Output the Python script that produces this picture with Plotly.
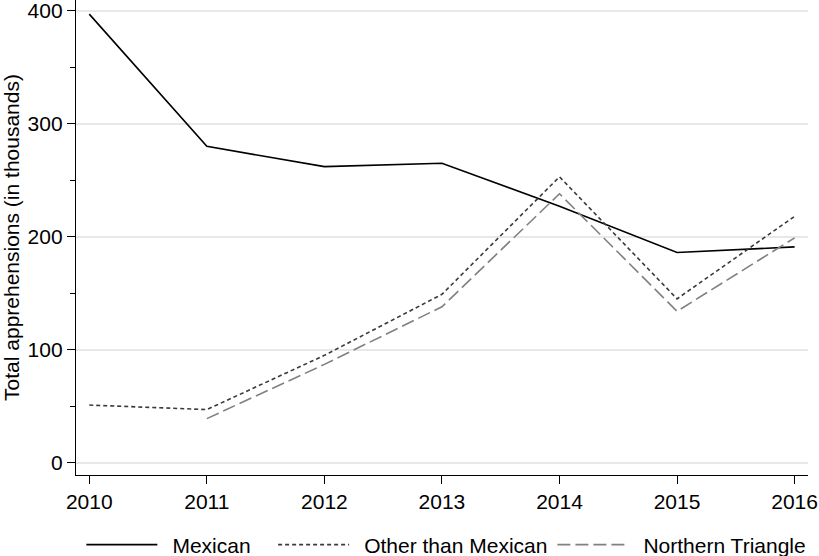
import plotly.graph_objects as go

years = [2010, 2011, 2012, 2013, 2014, 2015, 2016]
mexican = [397, 280, 262, 265, 227, 186, 191]
other_than_mexican = [51, 47, 95, 149, 253, 145, 218]
nt_years = [2011, 2012, 2013, 2014, 2015, 2016]
northern_triangle = [39, 87, 138, 238, 134, 199]
series_names = ["Mexican", "Other than Mexican", "Northern Triangle"]

FONT = "Liberation Sans, Arial, sans-serif"
NB = "\u00a0"
THIN = "\u2009"

def lname(s, trailing):
    return NB + THIN + s + NB * trailing

fig = go.Figure()
fig.add_trace(go.Scatter(x=years, y=mexican, mode="lines", name=lname(series_names[0], 3),
                         line=dict(color="#000000", width=1.6)))
fig.add_trace(go.Scatter(x=years, y=other_than_mexican, mode="lines", name=lname(series_names[1], 0),
                         line=dict(color="#3a3a3a", width=1.6, dash="4px,3px")))
fig.add_trace(go.Scatter(x=nt_years, y=northern_triangle, mode="lines", name=lname(series_names[2], 0),
                         line=dict(color="#808080", width=1.6, dash="13px,5px")))

fig.update_layout(
    width=819, height=556,
    margin=dict(l=76, r=11, t=0, b=81),
    paper_bgcolor="white", plot_bgcolor="white",
    font=dict(family=FONT, size=21, color="black"),
    showlegend=True,
    legend=dict(orientation="h", xref="container", yref="container",
                x=0.545, xanchor="center", y=1 - 545 / 556, yanchor="middle",
                itemwidth=71, font=dict(size=21), tracegroupgap=0),
)
fig.update_xaxes(range=[2009.887, 2016.114], tickmode="array", tickvals=years,
                 ticktext=[str(y) for y in years], automargin=False,
                 showline=True, linecolor="black", linewidth=1.3, mirror=False,
                 ticks="outside", ticklen=8, tickcolor="black", tickwidth=1.3, showgrid=False,
                 zeroline=False, tickfont=dict(size=21), ticklabeloverflow="allow")
fig.update_yaxes(range=[-10.9, 409.5], tickvals=[0, 100, 200, 300, 400], automargin=False,
                 showline=True, linecolor="black", linewidth=1.3,
                 ticks="outside", ticklen=8, tickcolor="black", tickwidth=1.3,
                 showgrid=True, gridcolor="#e8e8e8", gridwidth=1.5, zeroline=False,
                 minor=dict(tickvals=[50, 150, 250, 350], ticks="outside", ticklen=5,
                            tickcolor="black", tickwidth=1.3, showgrid=False),
                 title=dict(text="Total apprehensions (in thousands)", font=dict(size=21), standoff=6),
                 tickfont=dict(size=21), ticklabeloverflow="allow")

fig.write_html("out.html", config={"displayModeBar": False},
               post_script="document.body.style.margin='0';document.body.style.overflow='hidden';")
